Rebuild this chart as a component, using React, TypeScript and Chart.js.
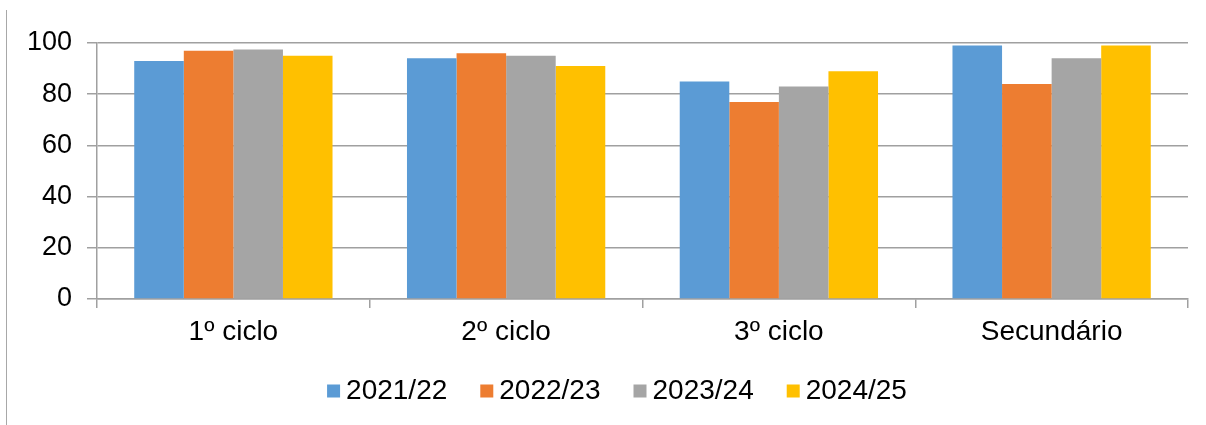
import React, { useEffect, useRef } from "react";
import { Chart, registerables } from "chart.js";

Chart.register(...registerables);

const categories = ["1º ciclo", "2º ciclo", "3º ciclo", "Secundário"];
const seriesLabels = ["2021/22", "2022/23", "2023/24", "2024/25"];
const s2021 = [93, 94, 85, 99];
const s2022 = [97, 96, 77, 84];
const s2023 = [97.5, 95, 83, 94];
const s2024 = [95, 91, 89, 99];
const colors = ["#5B9BD5", "#ED7D31", "#A5A5A5", "#FFC000"];
const yTicks = [0, 20, 40, 60, 80, 100];

const FAMILY = "'Liberation Sans', Arial, sans-serif";

const bottomLegend = {
  id: "bottomLegend",
  afterDraw(chart: any) {
    const ctx = chart.ctx as CanvasRenderingContext2D;
    const ds = chart.data.datasets as any[];
    const box = 13;
    const gap = 6;
    const spacing = 33;
    const centerX = 617;
    const centerY = 390;
    ctx.save();
    ctx.font = `28px ${FAMILY}`;
    ctx.textBaseline = "middle";
    ctx.textAlign = "left";
    const widths = ds.map((d) => ctx.measureText(String(d.label)).width);
    const total =
      widths.reduce((a, w) => a + box + gap + w, 0) + spacing * (ds.length - 1);
    let x = centerX - total / 2;
    ds.forEach((d, i) => {
      ctx.fillStyle = d.backgroundColor;
      ctx.fillRect(x, centerY - box / 2 + 1, box, box);
      x += box + gap;
      ctx.fillStyle = "#000";
      ctx.fillText(String(d.label), x, centerY + 1);
      x += widths[i] + spacing;
    });
    ctx.restore();
  },
};

export default function App() {
  const ref = useRef<HTMLCanvasElement | null>(null);
  useEffect(() => {
    document.body.style.margin = "0";
    const ctx = ref.current;
    if (!ctx) return;
    const values = [s2021, s2022, s2023, s2024];
    const font28 = { family: FAMILY, size: 28 };
    const font27 = { family: FAMILY, size: 27 };
    const chart = new Chart(ctx, {
      type: "bar",
      data: {
        labels: categories,
        datasets: seriesLabels.map((l, i) => ({
          label: l,
          data: values[i],
          backgroundColor: colors[i],
          borderWidth: 0,
          categoryPercentage: 0.727,
          barPercentage: 1,
        })),
      },
      plugins: [bottomLegend],
      options: {
        animation: false,
        responsive: false,
        layout: { padding: { top: 43, right: 18, left: 20, bottom: 0 } },
        plugins: {
          tooltip: { enabled: false },
          legend: { display: false },
        },
        scales: {
          x: {
            afterFit: (s: any) => {
              s.height = 126;
            },
            grid: {
              offset: true,
              drawOnChartArea: false,
              color: "#A0A0A0",
              lineWidth: 1.5,
              tickLength: 9,
            },
            border: { color: "#A0A0A0", width: 1.5 },
            ticks: { font: font28, color: "#000", padding: 7 },
          },
          y: {
            min: 0,
            max: 100,
            afterFit: (s: any) => {
              s.width = 77;
            },
            afterBuildTicks: (s: any) => {
              s.ticks = yTicks.map((v) => ({ value: v }));
            },
            grid: { color: "#A0A0A0", lineWidth: 1.5, tickLength: 10 },
            border: { color: "#A0A0A0", width: 1.5 },
            ticks: { font: font27, color: "#000", padding: 15 },
          },
        },
      },
    });
    return () => chart.destroy();
  }, []);
  return (
    <div style={{ position: "relative", width: 1206, height: 425, background: "#fff" }}>
      <div
        style={{
          position: "absolute",
          left: 6,
          top: 10,
          width: 0,
          height: 415,
          borderLeft: "1.5px solid #A8A8A8",
        }}
      />
      <canvas ref={ref} width={1206} height={425} style={{ display: "block" }} />
    </div>
  );
}
